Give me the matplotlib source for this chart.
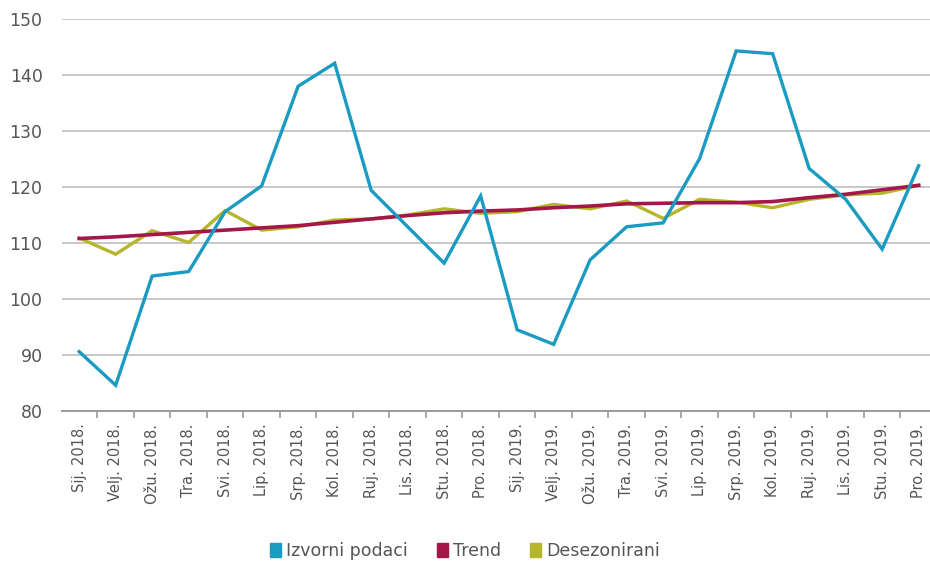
import numpy as np
import matplotlib; matplotlib.use('Agg')
import matplotlib.pyplot as plt
from matplotlib.patches import Patch
from matplotlib.ticker import FixedLocator

plt.rcParams['font.family'] = ['Liberation Sans Narrow', 'DejaVu Sans']

# --- data ---
months = ['Sij. 2018.', 'Velj. 2018.', 'Ožu. 2018.', 'Tra. 2018.', 'Svi. 2018.', 'Lip. 2018.',
          'Srp. 2018.', 'Kol. 2018.', 'Ruj. 2018.', 'Lis. 2018.', 'Stu. 2018.', 'Pro. 2018.',
          'Sij. 2019.', 'Velj. 2019.', 'Ožu. 2019.', 'Tra. 2019.', 'Svi. 2019.', 'Lip. 2019.',
          'Srp. 2019.', 'Kol. 2019.', 'Ruj. 2019.', 'Lis. 2019.', 'Stu. 2019.', 'Pro. 2019.']
izvorni = [90.6, 84.6, 104.1, 104.9, 115.6, 120.2, 138.0, 142.1, 119.4, 112.9, 106.4, 118.4,
           94.5, 91.9, 107.0, 112.9, 113.6, 125.1, 144.3, 143.8, 123.3, 117.8, 108.9, 123.8]
trend = [110.8, 111.1, 111.5, 111.9, 112.3, 112.7, 113.1, 113.7, 114.3, 114.9, 115.4, 115.7,
         115.9, 116.3, 116.6, 117.0, 117.1, 117.2, 117.2, 117.4, 118.1, 118.7, 119.5, 120.3]
desez = [110.9, 108.0, 112.2, 110.1, 115.8, 112.3, 112.9, 114.1, 114.3, 115.0, 116.1, 115.3,
         115.6, 116.9, 116.1, 117.5, 114.4, 117.8, 117.3, 116.3, 117.8, 118.6, 118.9, 120.3]

BLUE, RED, OLIVE = '#1a9bc2', '#a3174a', '#b7b52b'
GRID, AXIS, TXT = '#c8c8c8', '#9a9a9a', '#555555'

x = np.arange(len(months))

fig = plt.figure(figsize=(9.3, 5.67), dpi=100)
ax = fig.add_axes([62/930, 1 - 411/567, 1 - 62/930, (411 - 19)/567])

ax.plot(x, desez, color=OLIVE, lw=2.4, zorder=3, solid_joinstyle='miter')
ax.plot(x, trend, color=RED, lw=2.6, zorder=4)
ax.plot(x, izvorni, color=BLUE, lw=2.4, zorder=5, solid_joinstyle='miter')

ax.set_ylim(80, 150)
ax.set_yticks(range(80, 151, 10))
ax.set_xlim(-0.47, 23.31)
ax.set_xticks(x)
ax.set_xticklabels(months, rotation=90, fontsize=10.5, color=TXT)
ax.xaxis.set_minor_locator(FixedLocator(np.arange(-0.5, 24, 1)))
ax.tick_params(axis='x', which='major', length=0, pad=9)
ax.tick_params(axis='x', which='minor', length=5, width=1.2, color=AXIS)
ax.tick_params(axis='y', length=0, pad=14, labelsize=12.5, labelcolor=TXT)

ax.grid(axis='y', color=GRID, lw=1.4)
ax.set_axisbelow(True)
for s in ['top', 'right', 'left']:
    ax.spines[s].set_visible(False)
ax.spines['bottom'].set_color(AXIS)
ax.spines['bottom'].set_linewidth(1.4)

handles = [Patch(color=BLUE, label='Izvorni podaci'),
           Patch(color=RED, label='Trend'),
           Patch(color=OLIVE, label='Desezonirani')]
fig.legend(handles=handles, loc='center', bbox_to_anchor=(0.5, 1 - 551/567), ncol=3,
           frameon=False, fontsize=12.5, handlelength=0.6, handleheight=0.8,
           handletextpad=0.3, columnspacing=1.7, labelcolor=TXT)

fig.savefig('out.png', dpi=100)
